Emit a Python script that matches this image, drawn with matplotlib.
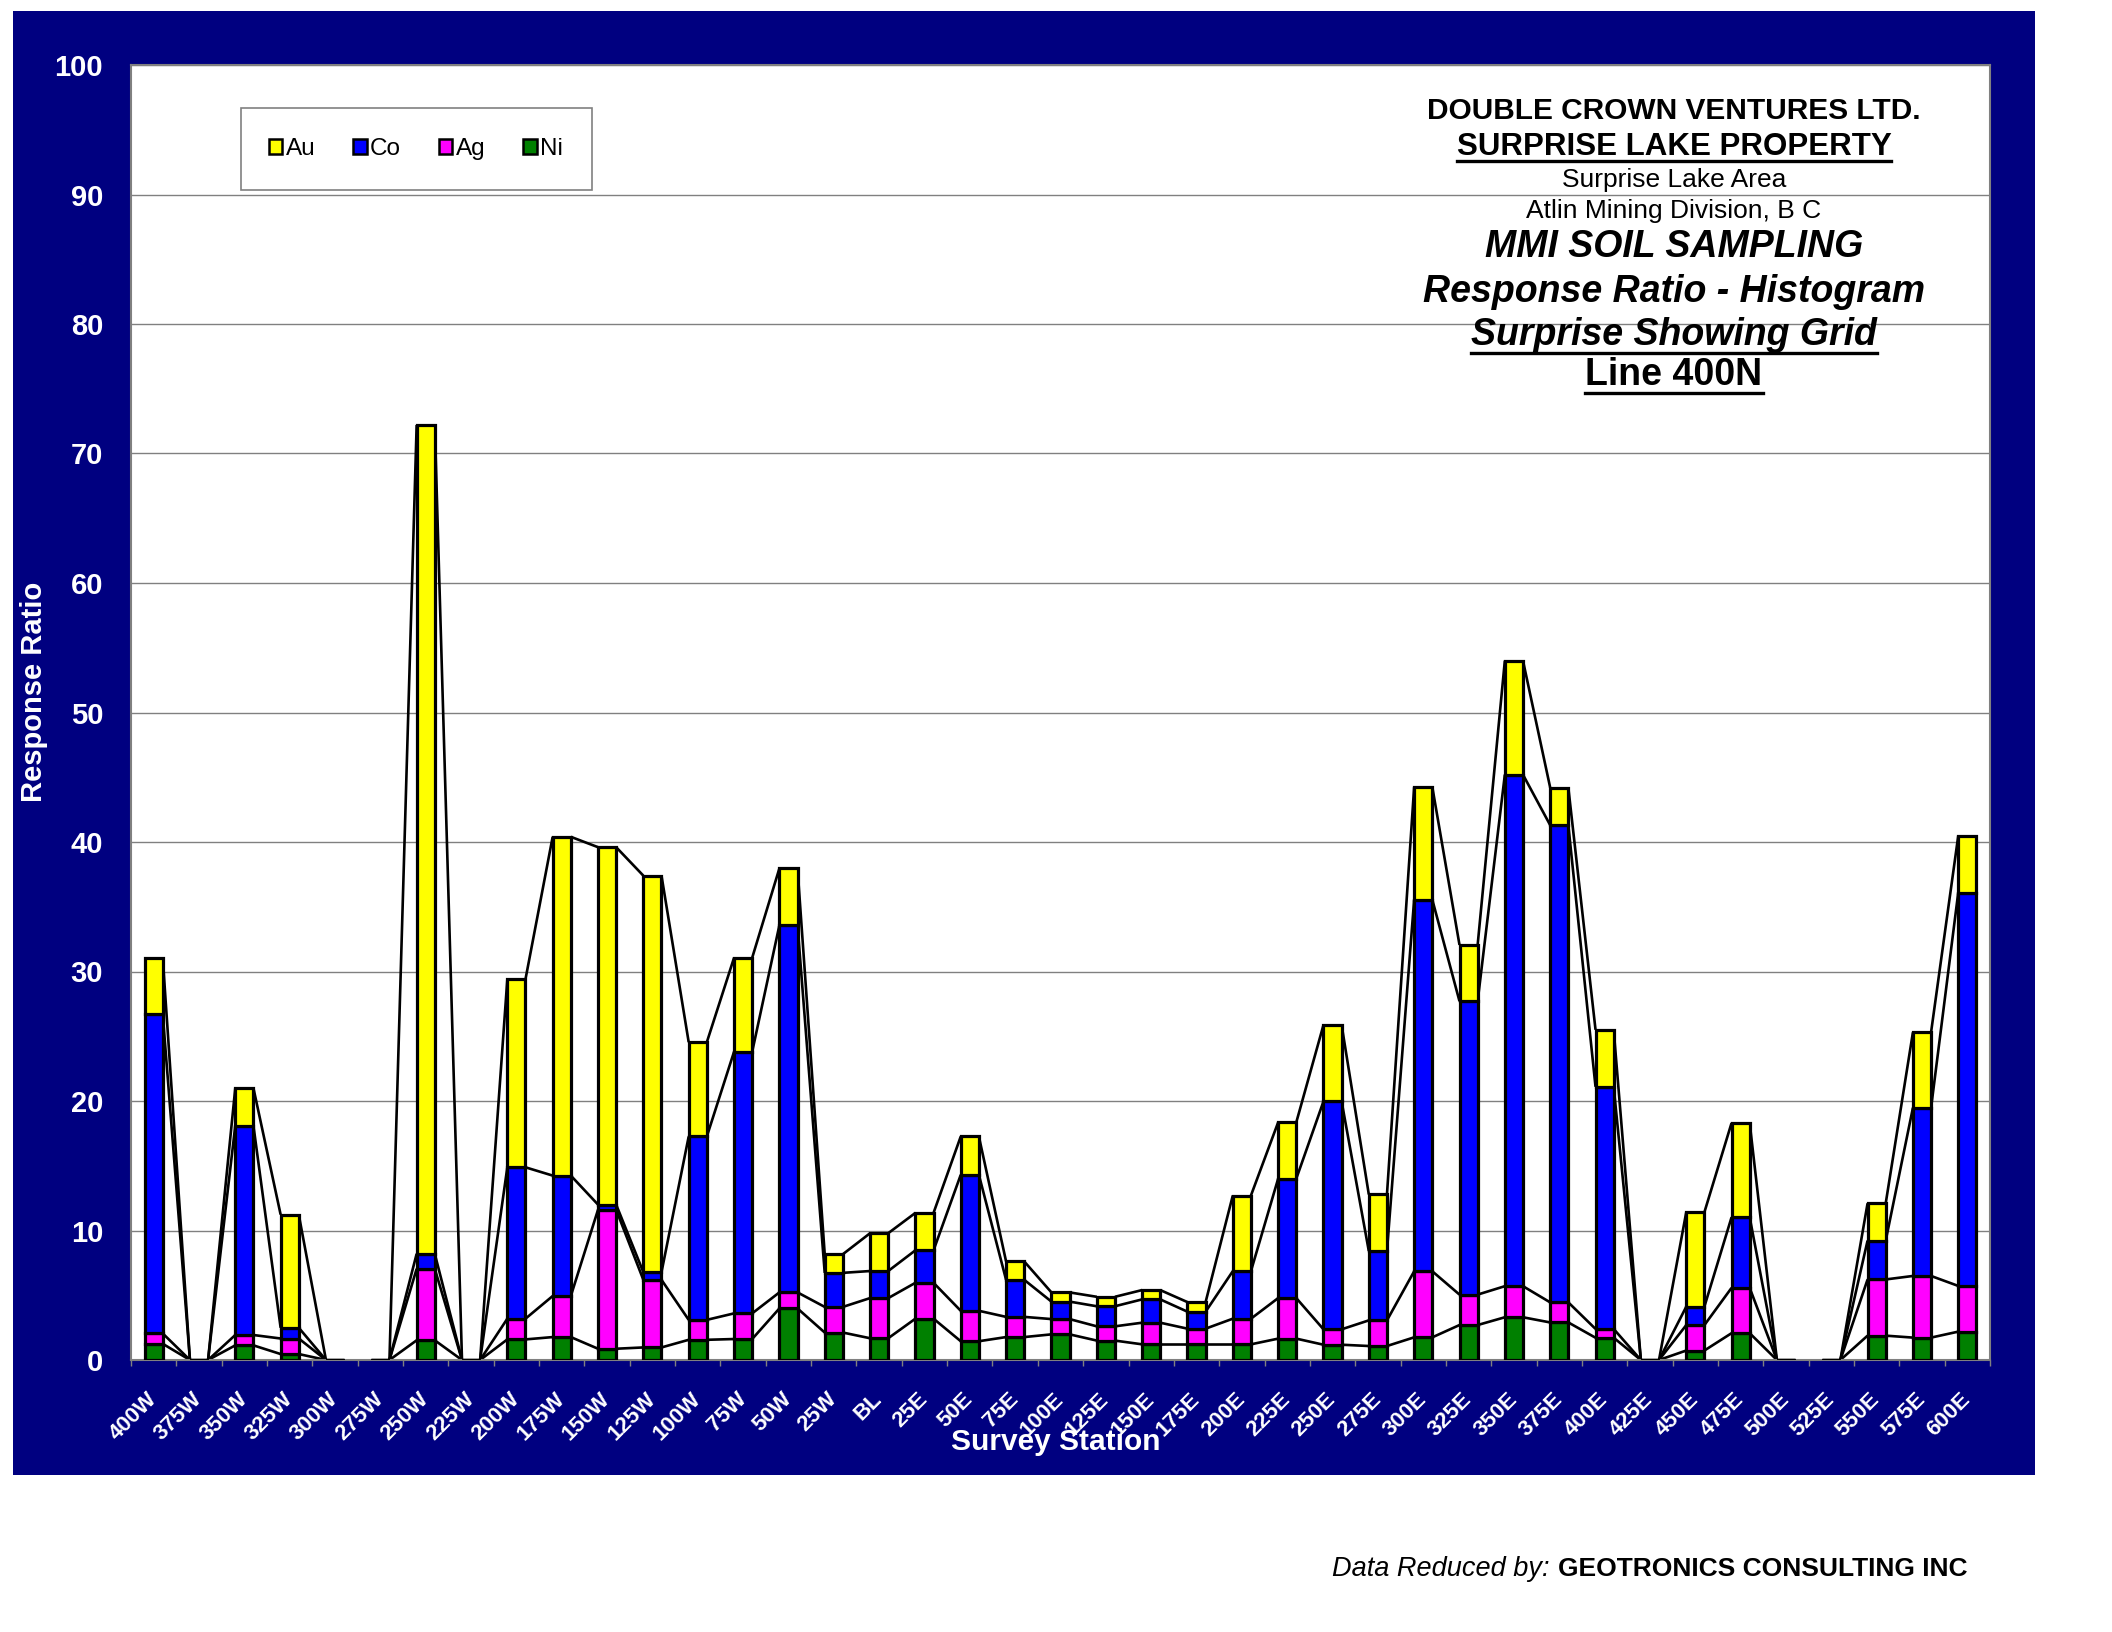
import matplotlib
matplotlib.use("Agg")
import matplotlib.pyplot as plt
import numpy as np
from matplotlib.patches import Rectangle, Patch
from matplotlib.lines import Line2D
from matplotlib.collections import LineCollection

plt.rcParams['font.family'] = ['Liberation Sans', 'DejaVu Sans']

stations = ["400W", "375W", "350W", "325W", "300W", "275W", "250W", "225W", "200W", "175W",
            "150W", "125W", "100W", "75W", "50W", "25W", "BL", "25E", "50E", "75E",
            "100E", "125E", "150E", "175E", "200E", "225E", "250E", "275E", "300E", "325E",
            "350E", "375E", "400E", "425E", "450E", "475E", "500E", "525E", "550E", "575E", "600E"]

ni = [1.25, 0, 1.13, 0.46, 0, 0, 1.52, 0, 1.59, 1.77,
      0.87, 0.97, 1.56, 1.62, 3.98, 2.12, 1.68, 3.19, 1.45, 1.77,
      1.98, 1.50, 1.21, 1.21, 1.21, 1.65, 1.18, 1.08, 1.75, 2.70,
      3.30, 2.90, 1.72, 0, 0.73, 2.07, 0, 0, 1.88, 1.73, 2.19]
ag = [0.80, 0, 0.80, 1.20, 0, 0, 5.52, 0, 1.60, 3.17,
      10.73, 5.22, 1.54, 1.98, 1.24, 1.98, 3.10, 2.77, 2.35, 1.56,
      1.18, 1.10, 1.67, 1.21, 1.98, 3.13, 1.19, 1.98, 5.10, 2.35,
      2.40, 1.55, 0.68, 0, 1.96, 3.50, 0, 0, 4.34, 4.76, 3.53]
co = [24.65, 0, 16.17, 0.83, 0, 0, 1.16, 0, 11.69, 9.30,
      0.40, 0.59, 14.16, 20.20, 28.35, 2.63, 2.09, 2.51, 10.50, 2.86,
      1.35, 1.55, 1.80, 1.31, 3.67, 9.22, 17.60, 5.35, 28.70, 22.65,
      39.50, 36.85, 18.70, 0, 1.42, 5.45, 0, 0, 3.00, 12.98, 30.38]
au = [4.35, 0, 2.90, 8.74, 0, 0, 64.00, 0, 14.52, 26.16,
      27.60, 30.62, 7.28, 7.26, 4.39, 1.44, 2.92, 2.89, 2.96, 1.42,
      0.71, 0.73, 0.72, 0.74, 5.84, 4.35, 5.90, 4.37, 8.70, 4.35,
      8.80, 2.90, 4.40, 0, 7.29, 7.28, 0, 0, 2.88, 5.83, 4.38]

series_names = ["Ni", "Ag", "Co", "Au"]
series_vals = [ni, ag, co, au]
series_cols = ["#008000", "#FF00FF", "#0000FF", "#FFFF00"]
yticks = list(range(0, 101, 10))

W, H = 2112, 1632
fig = plt.figure(figsize=(W / 100, H / 100), dpi=100)
fig.patch.set_facecolor("white")

def fx(px):
    return px / W

def fy(py):
    return 1 - py / H

# navy background panel
fig.add_artist(Rectangle((fx(13), fy(1475)), fx(2035) - fx(13), fy(11) - fy(1475),
                         transform=fig.transFigure, facecolor="#000080", edgecolor="none", zorder=0))

ax = fig.add_axes([fx(131), fy(1360), fx(1990) - fx(131), fy(65) - fy(1360)])
ax.set_facecolor("white")
ax.set_zorder(1)

x = np.arange(len(stations))
bw = 0.40
bottom = np.zeros(len(stations))
levels = []
for name, vals, col in zip(series_names, series_vals, series_cols):
    v = np.array(vals, dtype=float)
    ax.bar(x, v, bw, bottom=bottom, color=col, edgecolor="black", linewidth=2.3, zorder=3)
    bottom = bottom + v
    levels.append(bottom.copy())

# Excel-style series lines
segs = []
for lev in levels:
    for i in range(len(x) - 1):
        segs.append([(x[i] + bw / 2, lev[i]), (x[i + 1] - bw / 2, lev[i + 1])])
ax.add_collection(LineCollection(segs, colors="black", linewidths=1.9, zorder=2))

ax.set_xlim(-0.5, len(stations) - 0.5)
ax.set_ylim(0, 100)
ax.set_yticks(yticks)
ax.set_yticklabels([str(t) for t in yticks], color="white", fontsize=21, fontweight="bold")
ax.tick_params(axis="y", length=0, pad=20)
ax.yaxis.grid(True, color="#808080", linewidth=1.0)
ax.set_axisbelow(True)

ax.set_xticks(x)
ax.set_xticklabels(stations, rotation=45, ha="right", va="center", rotation_mode="anchor",
                   color="white", fontsize=16, fontweight="bold")
ax.tick_params(axis="x", which="major", length=0, pad=26)
ax.set_xticks(np.arange(-0.5, len(stations), 1.0), minor=True)
ax.tick_params(axis="x", which="minor", length=4.5, color="#808080", width=1.0, direction="out")

for sp in ax.spines.values():
    sp.set_color("#808080")
    sp.set_linewidth(1.5)

fig.text(fx(1056), fy(1442), "Survey Station", color="white", fontsize=21.5, fontweight="bold",
         ha="center", va="center")
fig.text(fx(34), fy(692), "Response Ratio", color="white", fontsize=21, fontweight="bold",
         ha="center", va="center", rotation=90)

# legend
fig.add_artist(Rectangle((fx(241), fy(190)), fx(592) - fx(241), fy(108) - fy(190),
                         transform=fig.transFigure, facecolor="white", edgecolor="#808080",
                         linewidth=1.2, zorder=5))
handles = [Patch(facecolor=c, edgecolor="black", linewidth=1.8) for c in series_cols[::-1]]
leg = fig.legend(handles, series_names[::-1], loc="center", bbox_to_anchor=(fx(416), fy(149)),
                 ncol=4, frameon=False, fontsize=17.5, handlelength=0.55, handleheight=0.55,
                 handletextpad=0.15, columnspacing=1.55)
leg.set_zorder(6)

# title block
cx = fx(1674)
title_lines = [
    ("DOUBLE CROWN VENTURES LTD.", 21.5, "bold", "normal", False, 119),
    ("SURPRISE LAKE PROPERTY", 22.5, "bold", "normal", True, 155),
    ("Surprise Lake Area", 19, "normal", "normal", False, 187),
    ("Atlin Mining Division, B C", 19, "normal", "normal", False, 218),
    ("MMI SOIL SAMPLING", 27, "bold", "italic", False, 257),
    ("Response Ratio - Histogram", 27, "bold", "italic", False, 302),
    ("Surprise Showing Grid", 27, "bold", "italic", True, 345),
    ("Line 400N", 27, "bold", "normal", True, 385),
]
txts = []
for s, fs, fw, st, ul, base in title_lines:
    t = fig.text(cx, fy(base), s, fontsize=fs, fontweight=fw, fontstyle=st,
                 ha="center", va="baseline", color="black", zorder=7)
    txts.append((t, ul, base, fs))

fig.text(fx(1967), fy(1576), "GEOTRONICS CONSULTING INC", fontsize=19, fontweight="bold",
         ha="right", va="baseline", color="black")
fig.canvas.draw()
r = fig.canvas.get_renderer()
bb = fig.texts[-1].get_window_extent(r)
fig.text(bb.x0 / W, fy(1576), "Data Reduced by: ", fontsize=19.5, fontstyle="italic",
         ha="right", va="baseline", color="black")

fig.canvas.draw()
for t, ul, base, fs in txts:
    if ul:
        e = t.get_window_extent(r)
        yy = base + fs * 0.28
        fig.add_artist(Line2D([e.x0 / W, e.x1 / W], [fy(yy), fy(yy)], transform=fig.transFigure,
                              color="black", linewidth=2.4, zorder=7))

fig.savefig("out.png", dpi=100, facecolor="white")
